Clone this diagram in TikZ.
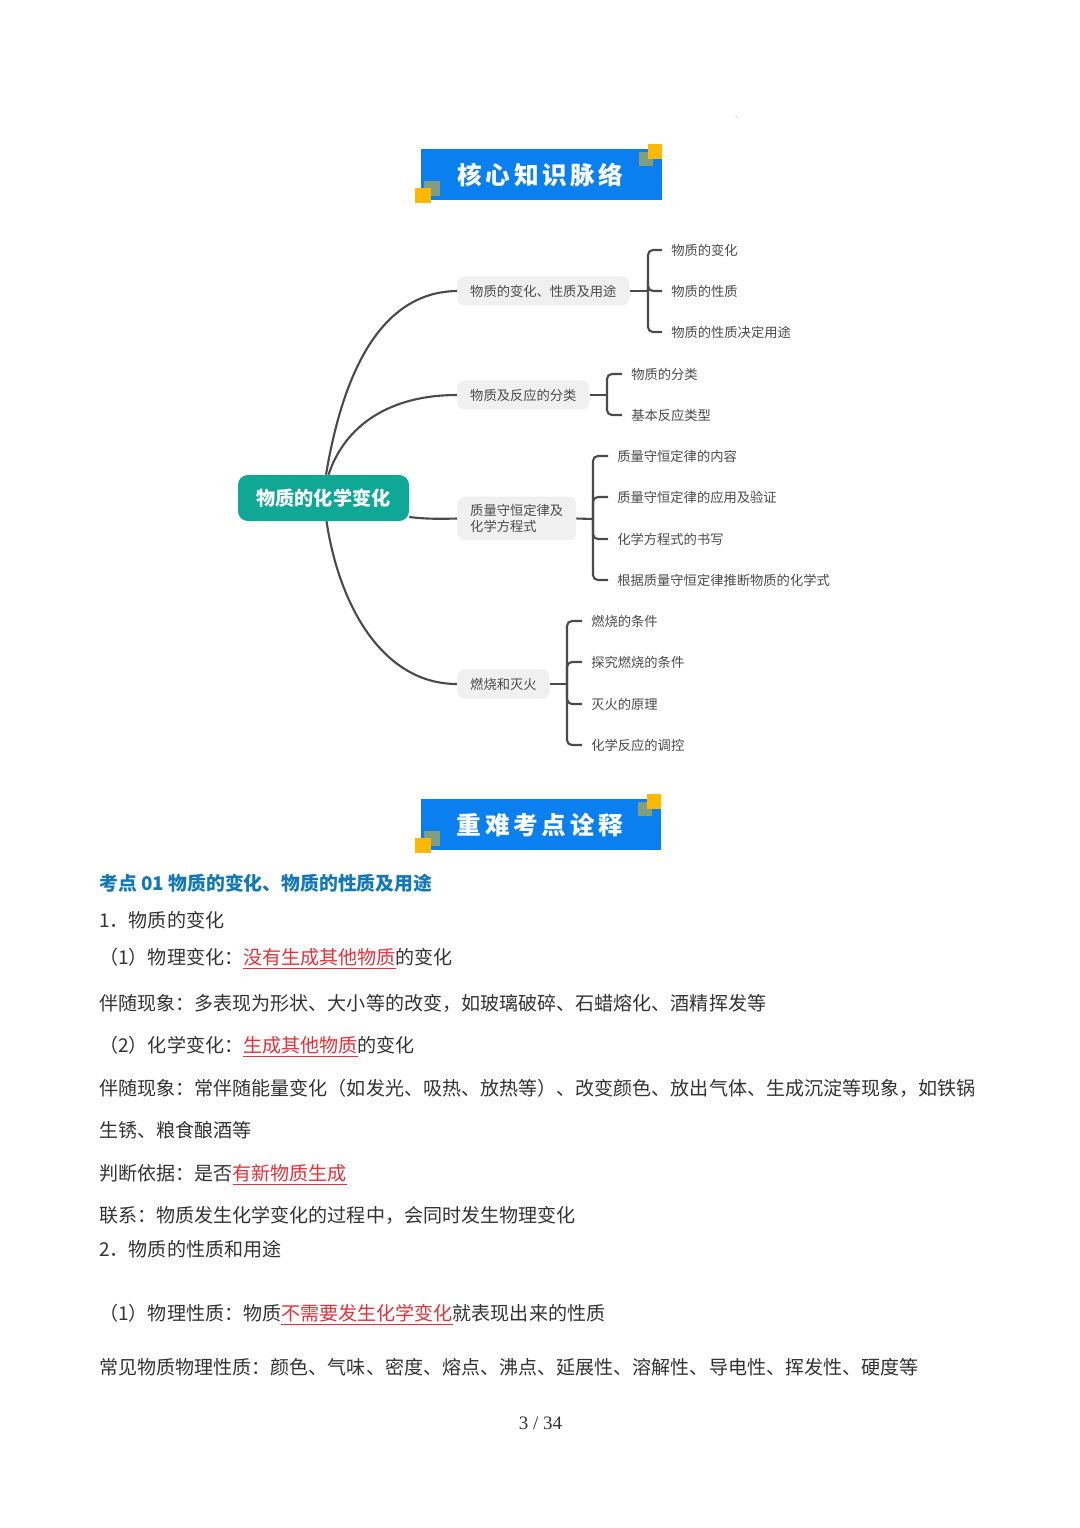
\documentclass[tikz,border=0pt]{standalone}
\usepackage{fontspec}
\setmainfont{Noto Sans CJK SC}
\newfontfamily\pagefont{Liberation Serif}
\usepackage{xcolor}
\usetikzlibrary{calc}
\definecolor{bannerblue}{HTML}{0A80F0}
\definecolor{banneryellow}{HTML}{FFB800}
\definecolor{bannergray}{HTML}{7F9F80}
\definecolor{rootgreen}{HTML}{0FA896}
\definecolor{branchgray}{HTML}{F0F0F0}
\definecolor{linkgray}{HTML}{4A4A4A}
\definecolor{headblue}{HTML}{1278B8}
\definecolor{notered}{HTML}{E8303A}
\definecolor{bodygray}{HTML}{333333}
\newcommand{\keyword}[1]{\textcolor{notered}{\underline{#1}}}
\tikzset{
    banner/.style={fill=bannerblue, draw=none},
    bannertext/.style={text=white, font=\fontsize{17.5pt}{20pt}\selectfont\bfseries\addfontfeature{LetterSpace=15}},
    root/.style={fill=rootgreen, rounded corners=7pt, text=white, minimum width=121.6pt, minimum height=32.7pt, inner sep=0pt, font=\fontsize{13.6pt}{16pt}\selectfont\bfseries},
    branch/.style={fill=branchgray, rounded corners=5.5pt, anchor=west, text=linkgray, inner xsep=9.2pt, inner ysep=0pt, minimum height=20.8pt, align=left, font=\fontsize{9.45pt}{11.4pt}\selectfont},
    leaf/.style={anchor=west, text=linkgray, inner xsep=6.4pt, inner ysep=0pt, font=\fontsize{9.45pt}{11pt}\selectfont},
    link/.style={draw=linkgray, line width=1.5pt},
    fork/.style={link, rounded corners=3.5pt},
    bodyline/.style={anchor=base west, inner sep=0pt, text=bodygray, font=\fontsize{13.55pt}{16pt}\selectfont},
}
\begin{document}
\begin{tikzpicture}[x=0.025cm, y=-0.025cm]
    %PAGE
    \fill[white] (0,0) rectangle (1080,1528);
    \useasboundingbox (0,0) rectangle (1080,1528);
    \fill[linkgray] (736,117) circle (0.5);
    %BANNER ATAS
    \fill[banner] (421,149) rectangle (662,200);
    \fill[bannergray] (639,152) rectangle (653,166);
    \fill[banneryellow] (648,144) rectangle (662,159);
    \fill[bannergray] (424,181) rectangle (440,196);
    \fill[banneryellow] (415,188) rectangle (431,203);
    \node[bannertext] (topbanner) at (540.5,175) {核心知识脉络};
    %BANNER BAWAH
    \fill[banner] (421,799) rectangle (661,850);
    \fill[bannergray] (638,802) rectangle (652,816);
    \fill[banneryellow] (647,794) rectangle (661,809);
    \fill[bannergray] (424,831) rectangle (440,846);
    \fill[banneryellow] (415,838) rectangle (431,853);
    \node[bannertext] (lowbanner) at (540,825) {重难考点诠释};
    %PETA
    \node[root] (root) at (323.5,498) {物质的化学变化};
    \node[branch] (change) at (457,291) {物质的变化、性质及用途};
    \node[branch] (sort) at (457,395) {物质及反应的分类};
    \node[branch, minimum height=31pt] (mass) at (457,518.5) {质量守恒定律及\\化学方程式};
    \node[branch] (fire) at (457,684) {燃烧和灭火};
    %DAUN
    \node[leaf] (leafa) at (662,250) {物质的变化};
    \node[leaf] (leafb) at (662,291) {物质的性质};
    \node[leaf] (leafc) at (662,332) {物质的性质决定用途};
    \node[leaf] (leafd) at (622,374) {物质的分类};
    \node[leaf] (leafe) at (622,415) {基本反应类型};
    \node[leaf] (leaff) at (608,456) {质量守恒定律的内容};
    \node[leaf] (leafg) at (608,497) {质量守恒定律的应用及验证};
    \node[leaf] (leafh) at (608,539) {化学方程式的书写};
    \node[leaf] (leafi) at (608,580) {根据质量守恒定律推断物质的化学式};
    \node[leaf] (leafj) at (582,621) {燃烧的条件};
    \node[leaf] (leafk) at (582,662) {探究燃烧的条件};
    \node[leaf] (leafl) at (582,704) {灭火的原理};
    \node[leaf] (leafm) at (582,745) {化学反应的调控};
    %GARIS HUBUNG
    \draw[link] ($(root.north)+(2.5,0)$) .. controls (341,385) and (375,292) .. (change.west);
    \draw[link] ($(root.north)+(5,0)$) .. controls (345,425) and (390,395) .. (sort.west);
    \draw[link] ($(root.east)+(0,19)$) .. controls (425,519) and (440,519) .. (mass.west);
    \draw[link] ($(root.south)+(3,0)$) .. controls (340,610) and (385,684) .. (fire.west);
    %CABANG
    \coordinate (changefork) at (648,291);
    \coordinate (sortfork) at (607,395);
    \coordinate (massfork) at (593,519);
    \coordinate (firefork) at (567,684);
    \draw[link] (change.east) -- (changefork);
    \draw[link] (sort.east) -- (sortfork);
    \draw[link] (mass.east) -- (massfork);
    \draw[link] (fire.east) -- (firefork);
    \foreach \item in {leafa,leafb,leafc}
        \draw[fork] (changefork) |- (\item.west);
    \foreach \item in {leafd,leafe}
        \draw[fork] (sortfork) |- (\item.west);
    \foreach \item in {leaff,leafg,leafh,leafi}
        \draw[fork] (massfork) |- (\item.west);
    \foreach \item in {leafj,leafk,leafl,leafm}
        \draw[fork] (firefork) |- (\item.west);
    %TEKS
    \node[bodyline, text=headblue, font=\fontsize{13.4pt}{16pt}\selectfont\bfseries] (head) at (99,890) {考点 01 物质的变化、物质的性质及用途};
    \node[bodyline] (linea) at (99,927.5) {1．物质的变化};
    \node[bodyline] (lineb) at (99,964.5) {（1）物理变化：\keyword{没有生成其他物质}的变化};
    \node[bodyline] (linec) at (99,1010.5) {伴随现象：多表现为形状、大小等的改变，如玻璃破碎、石蜡熔化、酒精挥发等};
    \node[bodyline] (lined) at (99,1052.5) {（2）化学变化：\keyword{生成其他物质}的变化};
    \node[bodyline] (linee) at (99,1095.5) {伴随现象：常伴随能量变化（如发光、吸热、放热等）、改变颜色、放出气体、生成沉淀等现象，如铁锅};
    \node[bodyline] (linef) at (99,1137.5) {生锈、粮食酿酒等};
    \node[bodyline] (lineg) at (99,1180.5) {判断依据：是否\keyword{有新物质生成}};
    \node[bodyline] (lineh) at (99,1222.5) {联系：物质发生化学变化的过程中，会同时发生物理变化};
    \node[bodyline] (linei) at (99,1256.5) {2．物质的性质和用途};
    \node[bodyline] (linej) at (99,1320.5) {（1）物理性质：物质\keyword{不需要发生化学变化}就表现出来的性质};
    \node[bodyline] (linek) at (99,1374.5) {常见物质物理性质：颜色、气味、密度、熔点、沸点、延展性、溶解性、导电性、挥发性、硬度等};
    \node[inner sep=0pt, text=bodygray, font=\fontsize{13.5pt}{16pt}\selectfont\pagefont] (pagenum) at (540.5,1423) {3 / 34};
\end{tikzpicture}
\end{document}
